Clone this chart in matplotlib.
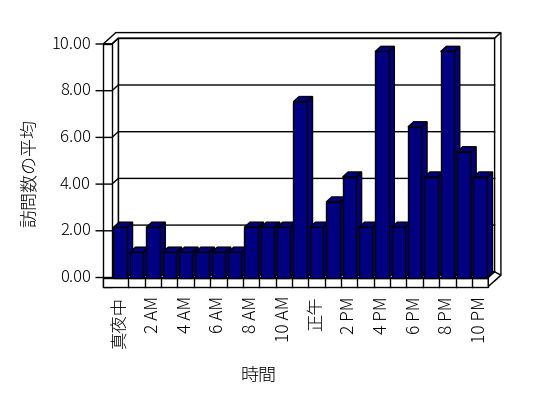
import matplotlib
matplotlib.use("Agg")
import matplotlib.pyplot as plt
from matplotlib.patches import Polygon

# ---- data ----
categories = ["真夜中", "1 AM", "2 AM", "3 AM", "4 AM", "5 AM", "6 AM", "7 AM",
              "8 AM", "9 AM", "10 AM", "11 AM", "正午", "1 PM", "2 PM", "3 PM",
              "4 PM", "5 PM", "6 PM", "7 PM", "8 PM", "9 PM", "10 PM"]
values = [2.15, 1.08, 2.15, 1.08, 1.08, 1.08, 1.08, 1.08,
          2.15, 2.15, 2.15, 7.53, 2.15, 3.23, 4.30, 2.15,
          9.68, 2.15, 6.45, 4.30, 9.68, 5.38, 4.30]
y_ticks = [0, 2, 4, 6, 8, 10]
y_ticklabels = ["0.00", "2.00", "4.00", "6.00", "8.00", "10.00"]
y_title = "訪問数の平均"
x_title = "時間"

# ---- layout (pixels) ----
W, H = 548, 398
PX_CAT = (488.3 - 112.0) / len(categories)   # px per category
PX_VAL = 23.35                               # px per value unit
X0_PX, Y0_PX = 112.0, 277.5                  # front-plane origin (from top-left)
DEPTH_PX = (6.3, 5.7)                        # oblique depth offset (right, up)

fig = plt.figure(figsize=(W / 100, H / 100), dpi=100)
ax = fig.add_axes([0, 0, 1, 1])
ax.set_xlim(-X0_PX / PX_CAT, (W - X0_PX) / PX_CAT)
ax.set_ylim(-(H - Y0_PX) / PX_VAL, Y0_PX / PX_VAL)
ax.axis("off")

ddx = DEPTH_PX[0] / PX_CAT
ddy = DEPTH_PX[1] / PX_VAL

def P(x, d, v):
    return (x + d * ddx, v + d * ddy)

ncat = len(categories)
vmax = y_ticks[-1]
wall_t = -8.8 / PX_CAT      # left wall thickness (category units)
floor_t = -9.0 / PX_VAL     # floor thickness (value units)
lw = 1.0
face = "white"
navy = "#000080"

def poly(pts, fc, z):
    ax.add_patch(Polygon(pts, closed=True, facecolor=fc, edgecolor="black",
                         linewidth=lw, zorder=z, joinstyle="miter"))

# back wall: front face, top face, right face
poly([P(0, 1, 0), P(ncat, 1, 0), P(ncat, 1, vmax), P(0, 1, vmax)], face, 1)
poly([P(wall_t, 2, vmax), P(ncat, 2, vmax), P(ncat, 1, vmax), P(0, 1, vmax),
      P(0, 0, vmax), P(wall_t, 0, vmax)], face, 1)
poly([P(ncat, 1, floor_t), P(ncat, 2, floor_t), P(ncat, 2, vmax), P(ncat, 1, vmax)], face, 1)

# left wall: inner face, front face
poly([P(0, 0, 0), P(0, 1, 0), P(0, 1, vmax), P(0, 0, vmax)], face, 1)
poly([P(wall_t, 0, floor_t), P(0, 0, floor_t), P(0, 0, vmax), P(wall_t, 0, vmax)], face, 2)

# floor: top face, front face, right end
poly([P(0, 0, 0), P(ncat, 0, 0), P(ncat, 1, 0), P(0, 1, 0)], face, 1)
poly([P(wall_t, 0, floor_t), P(ncat, 0, floor_t), P(ncat, 0, 0), P(0, 0, 0), P(wall_t, 0, 0)], face, 2)
poly([P(ncat, 0, floor_t), P(ncat, 2, floor_t), P(ncat, 1, 0), P(ncat, 0, 0)], face, 2)

# floor front separators (category ticks)
for i in range(1, ncat):
    a, b = P(i, 0, floor_t), P(i, 0, 0)
    ax.plot([a[0], b[0]], [a[1], b[1]], color="black", lw=lw, zorder=3)

# gridlines / y ticks
tick_out = -7.0 / PX_CAT
for v in y_ticks:
    pts = [P(wall_t + tick_out, 0, v), P(0, 0, v), P(0, 1, v), P(ncat, 1, v)]
    ax.plot([p[0] for p in pts], [p[1] for p in pts], color="black", lw=lw,
            zorder=2.5, solid_joinstyle="miter")

# bars
half = 0.41
d0, d1 = 0.0, 0.9
for i, v in enumerate(values):
    xl, xr = i + 0.5 - half, i + 0.5 + half
    z = 10 + i
    poly([P(xr, d0, 0), P(xr, d1, 0), P(xr, d1, v), P(xr, d0, v)], navy, z)
    poly([P(xl, d0, v), P(xr, d0, v), P(xr, d1, v), P(xl, d1, v)], navy, z)
    poly([P(xl, d0, 0), P(xr, d0, 0), P(xr, d0, v), P(xl, d0, v)], navy, z)

fonts = ["Noto Sans CJK JP", "DejaVu Sans"]
wt = "light"

# y tick labels
for v, lab in zip(y_ticks, y_ticklabels):
    x = (91.0 - X0_PX) / PX_CAT
    ax.text(x, v, lab, ha="right", va="center", fontsize=12, family=fonts,
            fontweight=wt)

# x tick labels (every other category)
label_top = -(296.0 - Y0_PX) / PX_VAL
for i in range(0, ncat, 2):
    ax.text(i + 0.5, label_top, categories[i], rotation=90, ha="center", va="top",
            fontsize=12.5, family=fonts, fontweight=wt)

# axis titles
ax.text((30 - X0_PX) / PX_CAT, (Y0_PX - 173) / PX_VAL, y_title, rotation=90,
        ha="center", va="center", fontsize=13, family=fonts, fontweight=wt)
ax.text((258 - X0_PX) / PX_CAT, (Y0_PX - 376) / PX_VAL, x_title,
        ha="center", va="center", fontsize=13, family=fonts, fontweight=wt)

fig.savefig("out.png", dpi=100, facecolor="white")
